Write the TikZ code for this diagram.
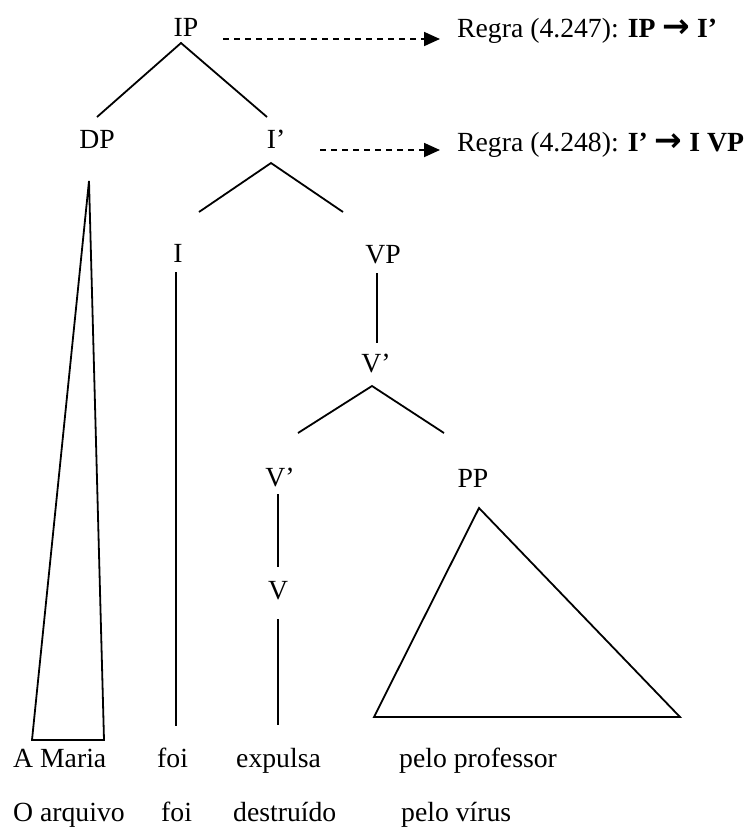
\documentclass[tikz,border=0pt]{standalone}
\usepackage{fontspec}
\setmainfont{Liberation Serif}
\newfontfamily\arrowfont{DejaVu Sans}
\newcommand{\rarr}{{\arrowfont\bfseries\fontsize{33}{36}\selectfont →}}
\usetikzlibrary{arrows.meta}
\begin{document}
\begin{tikzpicture}[x=1pt,y=-1pt,
  lab/.style={inner sep=0pt,anchor=base,font=\fontsize{27.7}{33}\selectfont},
  leaf/.style={inner sep=0pt,anchor=base west,font=\fontsize{27.7}{33}\selectfont},
  branch/.style={line width=1.8pt,line join=miter},
  rulearrow/.style={line width=1.8pt,dash pattern=on 6pt off 5pt,-{Triangle[length=16pt,width=14pt]}}]
\path[use as bounding box,fill=white] (0,0) rectangle (748,828);

% category labels
\node[lab] (IP) at (186,36) {IP};
\node[lab] (DP) at (97,148) {DP};
\node[lab] (Ibar) at (276,148) {I’};
\node[lab] (I) at (178,262) {I};
\node[lab] (VP) at (383,263) {VP};
\node[lab] (Vbar1) at (376,372) {V’};
\node[lab] (Vbar2) at (280,486) {V’};
\node[lab] (PP) at (473,487) {PP};
\node[lab] (V) at (278,599) {V};

% rules
\node[leaf] (R1) at (457,37) {Regra (4.247): \textbf{IP \rarr\ I’}};
\node[leaf] (R2) at (457,151) {Regra (4.248): \textbf{I’ \rarr\ I VP}};
\coordinate (a1s) at (223,39);
\coordinate (a1e) at (440,39);
\coordinate (a2s) at (320,150);
\coordinate (a2e) at (440,150);
\draw[rulearrow] (a1s) -- (a1e);
\draw[rulearrow] (a2s) -- (a2e);

% leaves
\node[leaf] (w1) at (13,767) {A Maria};
\node[leaf] (w2) at (157,767) {foi};
\node[leaf] (w3) at (236,767) {expulsa};
\node[leaf] (w4) at (399,767) {pelo professor};
\node[leaf] (x1) at (13,821) {O arquivo};
\node[leaf] (x2) at (161,821) {foi};
\node[leaf] (x3) at (233,821) {destruído};
\node[leaf] (x4) at (401,821) {pelo vírus};

% branch points
\coordinate (ipA) at (181,43);
\coordinate (ipL) at (97,117);
\coordinate (ipR) at (267,117);
\coordinate (ibA) at (271,163);
\coordinate (ibL) at (199,212);
\coordinate (ibR) at (343,212);
\coordinate (vbA) at (372,386);
\coordinate (vbL) at (298,433);
\coordinate (vbR) at (444,433);
\coordinate (iT) at (176,272);
\coordinate (iB) at (176,726);
\coordinate (vpT) at (377,273);
\coordinate (vpB) at (377,343);
\coordinate (v2T) at (278,494);
\coordinate (v2B) at (278,567);
\coordinate (vT) at (278,619);
\coordinate (vB) at (278,725);
\coordinate (dpA) at (89,181);
\coordinate (dpL) at (32,740);
\coordinate (dpR) at (104,740);
\coordinate (ppA) at (479,508);
\coordinate (ppL) at (374,717);
\coordinate (ppR) at (680,717);

\draw[branch] (ipL) -- (ipA) -- (ipR);
\draw[branch] (ibL) -- (ibA) -- (ibR);
\draw[branch] (vbL) -- (vbA) -- (vbR);
\draw[branch] (iT) -- (iB);
\draw[branch] (vpT) -- (vpB);
\draw[branch] (v2T) -- (v2B);
\draw[branch] (vT) -- (vB);
\draw[branch] (dpA) -- (dpL) -- (dpR) -- cycle;
\draw[branch] (ppA) -- (ppL) -- (ppR) -- cycle;
\end{tikzpicture}
\end{document}
